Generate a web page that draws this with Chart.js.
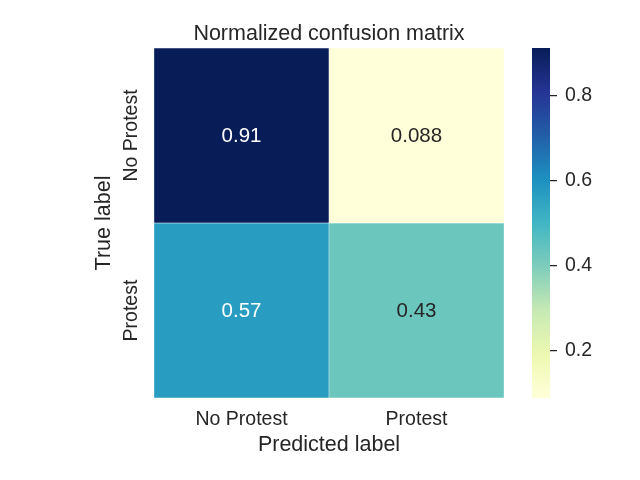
<!DOCTYPE html>
<html lang="en">
<head>
<meta charset="utf-8" />
<title>Normalized confusion matrix</title>
<style>
  body { margin: 0; background: #fff; }
  #wrap { position: relative; width: 640px; height: 480px; }
  #wrap canvas { position: absolute; left: 0; top: 0; }
</style>
</head>
<body>
<div id="wrap">
  <canvas id="matrixChart" width="640" height="480"></canvas>
  <canvas id="colorbarChart" width="640" height="480"></canvas>
</div>
<script src="https://cdn.jsdelivr.net/npm/chart.js"></script>
<script>
// Data of the matrix (rows = true label, columns = predicted label)
const predictedLabels = ['No Protest', 'Protest'];
const trueLabels = ['No Protest', 'Protest'];
const rowNoProtest = [0.912, 0.088];
const rowProtest = [0.57, 0.43];
const colorbarTicks = [0.2, 0.4, 0.6, 0.8];

const rows = [rowNoProtest, rowProtest];
const nRows = rows.length;
const allValues = rows.flat();
const vmin = Math.min(...allValues);
const vmax = Math.max(...allValues);

// YlGnBu colormap
const ylGnBu = ['#ffffd9', '#edf8b1', '#c7e9b4', '#7fcdbb', '#41b6c4', '#1d91c0', '#225ea8', '#253494', '#081d58'];
const textDark = '#262626';
const fontFamily = "'Liberation Sans', Arial, sans-serif";

function hexToRgb(h) {
    return [parseInt(h.substr(1, 2), 16), parseInt(h.substr(3, 2), 16), parseInt(h.substr(5, 2), 16)];
}
function cmapRgb(t) {
    t = Math.max(0, Math.min(1, t));
    const pos = t * (ylGnBu.length - 1);
    const i = Math.min(Math.floor(pos), ylGnBu.length - 2);
    const f = pos - i;
    const a = hexToRgb(ylGnBu[i]), b = hexToRgb(ylGnBu[i + 1]);
    return a.map((c, k) => Math.round(c + (b[k] - c) * f));
}
function cmap(v) {
    const c = cmapRgb((v - vmin) / (vmax - vmin));
    return 'rgb(' + c.join(',') + ')';
}
function luminance(v) {
    const c = cmapRgb((v - vmin) / (vmax - vmin)).map(x => {
        x = x / 255;
        return x <= 0.03928 ? x / 12.92 : Math.pow((x + 0.055) / 1.055, 2.4);
    });
    return 0.2126 * c[0] + 0.7152 * c[1] + 0.0722 * c[2];
}

Chart.defaults.font.family = fontFamily;
Chart.defaults.color = textDark;

// title, cell annotations and rotated row labels
const matrixText = {
    id: 'matrixText',
    afterDatasetsDraw(chart) {
        const ctx = chart.ctx;
        ctx.save();
        ctx.textAlign = 'center';
        ctx.textBaseline = 'alphabetic';
        ctx.font = '20.5px ' + fontFamily;
        rows.forEach((vals, r) => {
            const meta = chart.getDatasetMeta(r);
            vals.forEach((v, i) => {
                const el = meta.data[i];
                const cy = (el.y + el.base) / 2;
                ctx.fillStyle = luminance(v) > 0.408 ? textDark : '#ffffff';
                ctx.fillText(v.toPrecision(2), el.x, cy + 6.5);
            });
        });
        ctx.restore();
    },
    afterDraw(chart) {
        const ctx = chart.ctx;
        const area = chart.chartArea;
        const yScale = chart.scales.y;
        ctx.save();
        ctx.fillStyle = textDark;
        ctx.textAlign = 'center';
        ctx.textBaseline = 'alphabetic';
        ctx.font = '21.5px ' + fontFamily;
        ctx.fillText('Normalized confusion matrix', (area.left + area.right) / 2, 40);
        ctx.font = '19.5px ' + fontFamily;
        trueLabels.forEach((lab, r) => {
            const y = yScale.getPixelForValue(nRows - r - 0.5);
            ctx.save();
            ctx.translate(136.5, y);
            ctx.rotate(-Math.PI / 2);
            ctx.fillText(lab, 0, 0);
            ctx.restore();
        });
        ctx.restore();
    }
};

new Chart(document.getElementById('matrixChart'), {
    type: 'bar',
    data: {
        labels: predictedLabels,
        datasets: rows.map((vals, r) => ({
            data: vals.map(() => [nRows - 1 - r, nRows - r]),
            backgroundColor: vals.map(v => cmap(v)),
            borderColor: '#ffffff',
            borderWidth: 0.5,
            borderSkipped: false,
            barPercentage: 1,
            categoryPercentage: 1,
            grouped: false
        }))
    },
    options: {
        responsive: false,
        animation: false,
        layout: { padding: { left: 0, top: 48, right: 136, bottom: 0 } },
        plugins: { legend: { display: false }, tooltip: { enabled: false } },
        scales: {
            x: {
                grid: { display: false, drawTicks: false },
                border: { display: false },
                ticks: { font: { size: 19.5 }, padding: 10, color: textDark },
                title: { display: true, text: 'Predicted label', color: textDark, font: { size: 21.5 }, padding: { top: 0, bottom: 22 } },
                afterFit(s) { s.height = 82; }
            },
            y: {
                type: 'linear',
                min: 0,
                max: nRows,
                grid: { display: false, drawTicks: false },
                border: { display: false },
                ticks: { display: false },
                title: { display: true, text: 'True label', color: textDark, font: { size: 21.5 }, padding: { top: 91, bottom: 0 } },
                afterFit(s) { s.width = 154; }
            }
        }
    },
    plugins: [matrixText]
});

// colorbar
new Chart(document.getElementById('colorbarChart'), {
    type: 'bar',
    data: {
        labels: [''],
        datasets: [{
            data: [[vmin, vmax]],
            backgroundColor(c) {
                const chart = c.chart;
                if (!chart.chartArea) return ylGnBu[4];
                const y = chart.scales.y;
                const g = chart.ctx.createLinearGradient(0, y.getPixelForValue(vmin), 0, y.getPixelForValue(vmax));
                ylGnBu.forEach((col, i) => g.addColorStop(i / (ylGnBu.length - 1), col));
                return g;
            },
            borderWidth: 0,
            barPercentage: 1,
            categoryPercentage: 1
        }]
    },
    options: {
        responsive: false,
        animation: false,
        layout: { padding: { left: 532, top: 48, right: 0, bottom: 82 } },
        plugins: { legend: { display: false }, tooltip: { enabled: false } },
        scales: {
            x: { display: false },
            y: {
                position: 'right',
                min: vmin,
                max: vmax,
                afterBuildTicks(s) { s.ticks = colorbarTicks.map(v => ({ value: v })); },
                ticks: { font: { size: 19.5 }, padding: 8, color: textDark, callback: v => v.toFixed(1) },
                grid: { drawOnChartArea: false, drawTicks: true, tickLength: 7, color: textDark, lineWidth: 1.25 },
                border: { display: false },
                afterFit(s) { s.width = 90; }
            }
        }
    }
});
</script>
</body>
</html>
